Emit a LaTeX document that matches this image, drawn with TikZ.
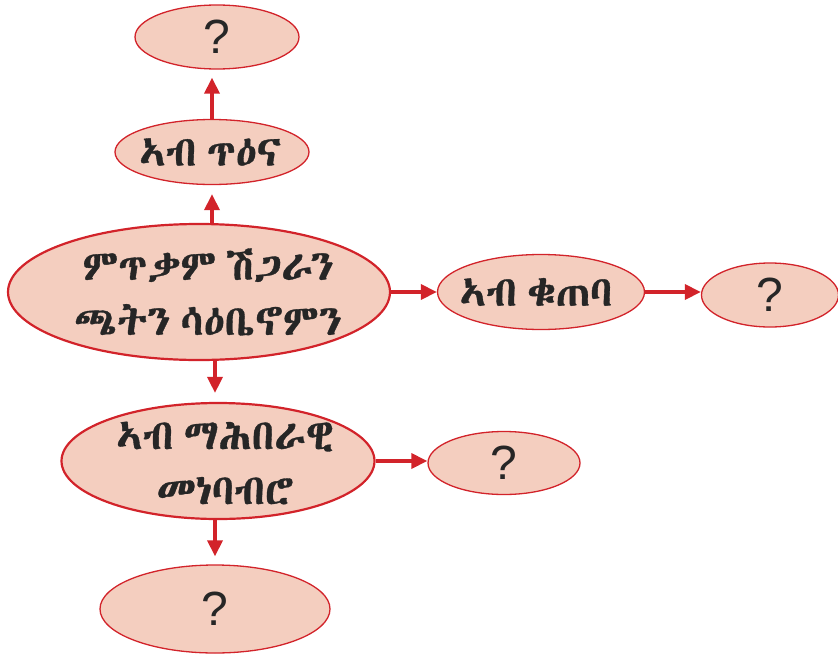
\documentclass[tikz,border=0pt]{standalone}
\usepackage{fontspec}
\usetikzlibrary{shapes.geometric,arrows.meta,calc}
\setsansfont{Liberation Sans}
\IfFontExistsTF{Abyssinica SIL}{\newfontfamily\ethfont[WordSpace=0.55,FakeBold=0.8]{Abyssinica SIL}}{%
 \IfFontExistsTF{FreeSans}{\newfontfamily\ethfont[WordSpace=0.55,FakeBold=0.8]{FreeSans}}{%
  \IfFontExistsTF{FreeSerif}{\newfontfamily\ethfont[WordSpace=0.55]{FreeSerif}}{\newfontfamily\ethfont{DejaVu Sans}}}}
\definecolor{bubble}{HTML}{F4CEBF}
\definecolor{edgered}{HTML}{D2232A}
\begin{document}
\begin{tikzpicture}[x=1pt,y=-1pt,
  bub/.style={ellipse, draw=edgered, fill=bubble, line width=1.3pt, inner sep=0pt},
  qtext/.style={font=\sffamily\fontsize{48}{48}\selectfont, text=black!85},
  eth/.style={font=\ethfont\fontsize{42}{55}\selectfont, align=center, inner sep=0pt, text=black!85},
  arr/.style={draw=edgered, line width=3.4pt, -{Triangle[length=16pt,width=15pt]}}]
\useasboundingbox (0,0) rectangle (838,656);
\node[bub, minimum width=164pt, minimum height=64pt, qtext] (q1) at (217,37) {?};
\node[bub, minimum width=194pt, minimum height=65pt] (health) at (212,152) {};
\node[eth] (healthtxt) at (210,152) {ኣብ ጥዕና};
\node[bub, line width=2.2pt, minimum width=382pt, minimum height=136pt] (main) at (199,292) {};
\node[eth] (maintxt) at (208,292) {ምጥቃም ሽጋራን\\ጫትን ሳዕቤኖምን};
\node[bub, minimum width=207pt, minimum height=75pt] (econ) at (541,292) {};
\node[eth] (econtxt) at (536,292) {ኣብ ቁጠባ};
\node[bub, minimum width=137pt, minimum height=64pt, qtext] (q2) at (770,295) {?};
\node[bub, line width=2.2pt, minimum width=313pt, minimum height=116pt] (social) at (218,461) {};
\node[eth] (socialtxt) at (225,463) {ኣብ ማሕበራዊ\\መነባብሮ};
\node[bub, minimum width=152pt, minimum height=63pt, qtext] (q3) at (504,463) {?};
\node[bub, minimum width=230pt, minimum height=88pt, qtext] (q4) at (215,609) {?};
\draw[arr, shorten >=8pt] (health.north) -- (health.north |- q1.south);
\draw[arr, shorten >=9pt] (main.north -| health.north) -- (health.south);
\draw[arr] (main.east) -- (econ.west);
\draw[arr] (econ.east) -- (econ.east -| q2.west);
\draw[arr, shorten >=9pt] (main.south -| q4.north) -- (social.north -| q4.north);
\draw[arr] (social.east) -- (social.east -| q3.west);
\draw[arr, shorten >=8pt] (social.south -| q4.north) -- (q4.north);
\end{tikzpicture}
\end{document}
